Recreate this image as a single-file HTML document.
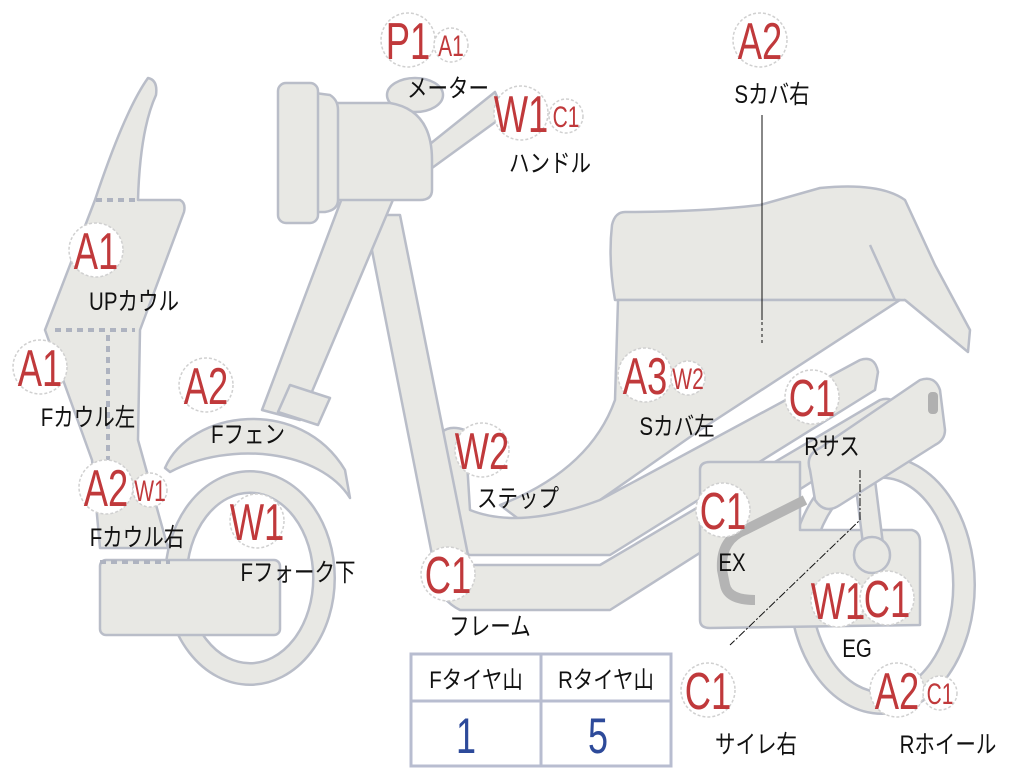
<!DOCTYPE html>
<html><head><meta charset="utf-8"><style>
html,body{margin:0;padding:0;background:#fff;}
svg{display:block}
.s{fill:#e8e8e4;stroke:#b9bdc8;stroke-width:2.5;stroke-linejoin:round}
.b{fill:#fff;stroke:#d0d0d0;stroke-width:1.5;stroke-dasharray:3 2}
.r{fill:#c0393b;font-family:"Liberation Sans","Noto Sans CJK JP",sans-serif;text-anchor:middle}
.k{fill:#111;font-family:"Liberation Sans","Noto Sans CJK JP",sans-serif;text-anchor:middle;font-size:25px}
</style></head><body>
<svg width="1024" height="768" viewBox="0 0 1024 768" xmlns="http://www.w3.org/2000/svg">
<ellipse cx="882" cy="585" rx="82" ry="118" fill="none" stroke="#b9bdc8" stroke-width="24"/>
<ellipse cx="882" cy="585" rx="82" ry="118" fill="none" stroke="#e8e8e4" stroke-width="19"/>
<ellipse cx="250" cy="578" rx="74" ry="96" fill="none" stroke="#b9bdc8" stroke-width="24"/>
<ellipse cx="250" cy="578" rx="74" ry="96" fill="none" stroke="#e8e8e4" stroke-width="19"/>
<path class="s" d="M165,468 C190,410 300,395 345,470 L350,498 C320,450 230,440 170,472 Z"/>
<path class="s" d="M625,212 Q700,212 760,205 L820,188 Q880,182 905,200 L935,265 L970,330 L968,352 L905,300 L615,300 Q608,260 612,225 Q615,212 625,212 Z"/>
<path class="s" d="M870,245 L895,300 L905,300"/>
<path class="s" d="M618,300 L900,300 L700,430 L600,500 Q575,530 520,520 L500,505 Q590,470 615,400 Z"/>
<path class="s" d="M442,432 Q450,425 465,430 L470,510 Q520,530 600,500 L860,360 Q875,355 878,372 L875,390 L610,555 L470,555 Q455,550 450,535 Z"/>
<path class="s" d="M365,215 L400,215 L470,565 L600,565 L880,400 Q895,395 900,412 L890,432 L610,610 L460,610 Q440,600 437,580 Z"/>
<path class="s" d="M700,470 Q700,462 710,462 L800,462 L800,530 L912,530 Q920,532 920,542 L920,625 L710,628 Q700,628 700,620 Z"/>
<path d="M805,500 L745,530 Q720,540 722,570 L725,585 Q728,600 755,600" fill="none" stroke="#b4b4b4" stroke-width="10"/>
<path class="s" d="M850,440 L870,440 L885,560 L865,560 Z"/>
<circle cx="872" cy="555" r="18" class="s"/>
<path class="s" d="M810,470 Q805,455 820,448 L920,380 Q935,375 940,390 L945,430 Q945,440 935,445 L840,505 Q825,515 815,500 Z"/>
<rect x="928" y="392" width="10" height="22" rx="4" fill="#b0b0b0"/>
<path class="s" d="M345,190 L395,195 L300,420 L262,410 Z"/>
<path class="s" d="M290,385 L330,398 L318,425 L278,412 Z"/>
<path class="s" d="M425,148 L495,92 L505,115 L432,168 Z"/>
<ellipse cx="415" cy="95" rx="28" ry="17" class="s"/>
<path class="s" d="M335,103 L390,103 Q432,110 432,160 L432,190 Q432,200 420,200 L338,200 Z"/>
<path class="s" d="M315,93 L330,95 Q338,100 338,110 L338,200 Q338,210 325,212 L315,212 Z"/>
<rect x="278" y="83" width="40" height="140" rx="8" class="s"/>
<path class="s" d="M148,78 Q158,80 156,95 Q140,130 138,200 L180,200 Q186,203 184,212 L140,330 L138,440 L168,548 L100,548 L92,460 L45,330 L95,200 Q125,110 148,78 Z"/>
<rect x="100" y="560" width="180" height="75" rx="6" class="s"/>
<path d="M96,200 L138,200 M55,330 L135,330 M108,335 L108,470 M100,562 L170,562" stroke="#aeb3c0" stroke-width="4" stroke-dasharray="6 5" fill="none"/>
<line x1="762" y1="115" x2="762" y2="320" stroke="#111" stroke-width="1"/>
<line x1="762" y1="322" x2="762" y2="345" stroke="#111" stroke-width="1" stroke-dasharray="3 3"/>
<path d="M860,470 L860,520 L730,645" fill="none" stroke="#111" stroke-width="1" stroke-dasharray="8 2 2 2"/>
<rect x="411" y="654" width="260" height="112" fill="#fff" stroke="#b8bdd0" stroke-width="3"/>
<line x1="411" y1="701" x2="671" y2="701" stroke="#b8bdd0" stroke-width="3"/>
<line x1="541" y1="654" x2="541" y2="766" stroke="#b8bdd0" stroke-width="3"/>
<g class="k" style="font-size:24px"><text transform="translate(476,688) scale(0.85,1)">Fタイヤ山</text><text transform="translate(606,688) scale(0.85,1)">Rタイヤ山</text></g>
<g style="fill:#2d4a9a;font-family:'Liberation Sans',sans-serif;font-size:50px;text-anchor:middle"><text transform="translate(466,753) scale(0.72,1)">1</text><text transform="translate(598,753) scale(0.72,1)">5</text></g>
<g>
<circle class="b" cx="408" cy="40" r="27"/><circle class="b" cx="451" cy="45" r="17"/>
<circle class="b" cx="521" cy="113" r="27"/><circle class="b" cx="566" cy="116" r="17"/>
<circle class="b" cx="760" cy="40" r="27"/>
<circle class="b" cx="96" cy="250" r="27"/>
<circle class="b" cx="40" cy="367" r="27"/>
<circle class="b" cx="206" cy="385" r="27"/>
<circle class="b" cx="106" cy="487" r="27"/><circle class="b" cx="150" cy="490" r="17"/>
<circle class="b" cx="257" cy="521" r="27"/>
<circle class="b" cx="645" cy="375" r="27"/><circle class="b" cx="688" cy="378" r="17"/>
<circle class="b" cx="812" cy="397" r="27"/>
<circle class="b" cx="482" cy="450" r="27"/>
<circle class="b" cx="723" cy="510" r="27"/>
<circle class="b" cx="448" cy="574" r="27"/>
<circle class="b" cx="838" cy="600" r="27"/><circle class="b" cx="887" cy="598" r="27"/>
<circle class="b" cx="708" cy="690" r="27"/>
<circle class="b" cx="897" cy="690" r="27"/><circle class="b" cx="940" cy="693" r="17"/>
</g>
<g class="r" style="font-size:52px">
<text transform="translate(408,59) scale(0.7,1)">P1</text>
<text transform="translate(521,132) scale(0.7,1)">W1</text>
<text transform="translate(760,59) scale(0.7,1)">A2</text>
<text transform="translate(96,269) scale(0.7,1)">A1</text>
<text transform="translate(40,386) scale(0.7,1)">A1</text>
<text transform="translate(206,404) scale(0.7,1)">A2</text>
<text transform="translate(106,506) scale(0.7,1)">A2</text>
<text transform="translate(257,540) scale(0.7,1)">W1</text>
<text transform="translate(645,394) scale(0.7,1)">A3</text>
<text transform="translate(812,416) scale(0.7,1)">C1</text>
<text transform="translate(482,469) scale(0.7,1)">W2</text>
<text transform="translate(723,529) scale(0.7,1)">C1</text>
<text transform="translate(448,593) scale(0.7,1)">C1</text>
<text transform="translate(838,619) scale(0.7,1)">W1</text>
<text transform="translate(887,617) scale(0.7,1)">C1</text>
<text transform="translate(708,709) scale(0.7,1)">C1</text>
<text transform="translate(897,709) scale(0.7,1)">A2</text>
</g>
<g class="r" style="font-size:30px">
<text transform="translate(451,56) scale(0.7,1)">A1</text>
<text transform="translate(566,127) scale(0.7,1)">C1</text>
<text transform="translate(150,501) scale(0.7,1)">W1</text>
<text transform="translate(688,389) scale(0.7,1)">W2</text>
<text transform="translate(940,704) scale(0.7,1)">C1</text>
</g>
<g class="k">
<text transform="translate(448,97) scale(0.82,1)">メーター</text>
<text transform="translate(550,172) scale(0.82,1)">ハンドル</text>
<text transform="translate(772,103) scale(0.82,1)">Sカバ右</text>
<text transform="translate(134,310) scale(0.82,1)">UPカウル</text>
<text transform="translate(88,426) scale(0.82,1)">Fカウル左</text>
<text transform="translate(248,443) scale(0.82,1)">Fフェン</text>
<text transform="translate(137,546) scale(0.82,1)">Fカウル右</text>
<text transform="translate(298,581) scale(0.82,1)">Fフォーク下</text>
<text transform="translate(677,435) scale(0.82,1)">Sカバ左</text>
<text transform="translate(832,455) scale(0.82,1)">Rサス</text>
<text transform="translate(518,507) scale(0.82,1)">ステップ</text>
<text transform="translate(732,571) scale(0.82,1)">EX</text>
<text transform="translate(490,635) scale(0.82,1)">フレーム</text>
<text transform="translate(857,657) scale(0.82,1)">EG</text>
<text transform="translate(756,753) scale(0.82,1)">サイレ右</text>
<text transform="translate(948,753) scale(0.82,1)">Rホイール</text>
</g>
</svg>
</body></html>
